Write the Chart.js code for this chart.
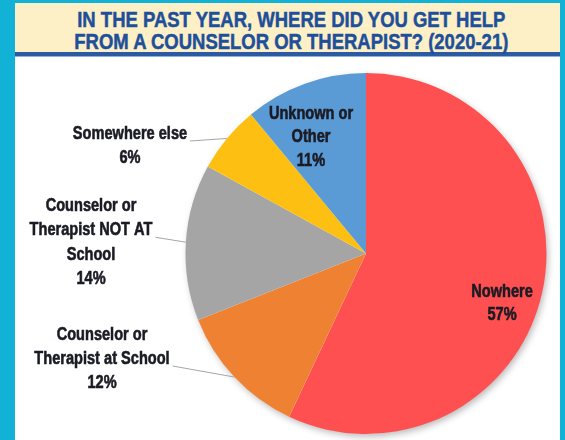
<!DOCTYPE html>
<html>
<head>
<meta charset="utf-8">
<script src="https://cdn.jsdelivr.net/npm/chart.js@4"></script>
<style>
  html, body { margin: 0; padding: 0; }
  body { width: 565px; height: 440px; background: #12b2d6; position: relative; overflow: hidden; }
  .frame { position: absolute; left: 15px; top: 3px; width: 545px; height: 437px; background: #fff; }
  .title {
    height: 53px; background: #fdf0c6; border-bottom: 4px solid #2b5aa3;
    box-shadow: 0 1px 0 #8fb0dc;
    color: #1d4f9a; text-align: center; padding-left: 8px;
    font-family: "Liberation Sans", Arial, sans-serif;
    font-weight: bold; font-size: 22px; line-height: 22px;
    box-sizing: border-box; padding-top: 6px; white-space: nowrap;
    -webkit-text-stroke: 0.5px #1d4f9a;
  }
  .title span { display: inline-block; transform: scaleX(0.84); transform-origin: center; }
  #chart { position: absolute; left: 0; top: 0; }
</style>
</head>
<body>
<div class="frame">
  <div class="title"><span>IN THE PAST YEAR, WHERE DID YOU GET HELP<br>FROM A COUNSELOR OR THERAPIST? (2020-21)</span></div>
</div>
<canvas id="chart" width="565" height="440"></canvas>
<script>
const categories = [
    ["Nowhere"],
    ["Counselor or", "Therapist at School"],
    ["Counselor or", "Therapist NOT AT", "School"],
    ["Somewhere else"],
    ["Unknown or", "Other"]
];
const percents = [57, 12, 14, 6, 11];
const colors = ["#fe5050", "#ef8232", "#a5a5a5", "#fdbf12", "#5b9bd5"];

// where each label sits (centre x, first line y, line height); leader = index of line the leader starts from
const labelLayout = [
    { x: 502, y: 292, lh: 23, leader: null },
    { x: 102, y: 335, lh: 24, leader: 1 },
    { x: 91, y: 206, lh: 24.3, leader: 1 },
    { x: 130, y: 134, lh: 24, leader: 0 },
    { x: 311, y: 114, lh: 23.5, leader: null }
];

// condensed look: Liberation Sans Bold squeezed horizontally
const labelFont = 'bold 18px "Liberation Sans", Arial, sans-serif';
const squeeze = 0.81;

const pieShadow = {
    id: "pieShadow",
    beforeDatasetsDraw(chart) {
        const arc = chart.getDatasetMeta(0).data[0];
        if (!arc) return;
        const ctx = chart.ctx;
        ctx.save();
        ctx.shadowColor = "rgba(0,0,0,0.28)";
        ctx.shadowBlur = 7;
        ctx.shadowOffsetX = 2;
        ctx.shadowOffsetY = 3;
        ctx.fillStyle = "#fff";
        ctx.beginPath();
        ctx.arc(arc.x, arc.y, arc.outerRadius - 0.5, 0, Math.PI * 2);
        ctx.fill();
        ctx.restore();
    }
};

const sliceLabels = {
    id: "sliceLabels",
    afterDatasetsDraw(chart) {
        const ctx = chart.ctx;
        const meta = chart.getDatasetMeta(0);
        ctx.save();
        ctx.font = labelFont;
        ctx.textAlign = "center";
        ctx.textBaseline = "middle";
        meta.data.forEach((arc, i) => {
            const pos = labelLayout[i];
            const lines = categories[i].concat([percents[i] + "%"]);
            if (pos.leader !== null) {
                const mid = (arc.startAngle + arc.endAngle) / 2;
                const ex = arc.x + Math.cos(mid) * arc.outerRadius;
                const ey = arc.y + Math.sin(mid) * arc.outerRadius;
                const w = ctx.measureText(lines[pos.leader]).width * squeeze;
                const sx = pos.x + w / 2 + 3;
                const sy = pos.y + pos.lh * pos.leader + 7;
                ctx.strokeStyle = "#a6a6a6";
                ctx.lineWidth = 1;
                ctx.beginPath();
                ctx.moveTo(sx, sy);
                ctx.lineTo(ex, ey);
                ctx.stroke();
            }
            ctx.fillStyle = "#1b1b24";
            ctx.strokeStyle = "#1b1b24";
            ctx.lineWidth = 0.6;
            ctx.save();
            ctx.scale(squeeze, 1);
            lines.forEach((t, k) => {
                ctx.fillText(t, pos.x / squeeze, pos.y + k * pos.lh);
                ctx.strokeText(t, pos.x / squeeze, pos.y + k * pos.lh);
            });
            ctx.restore();
        });
        ctx.restore();
    }
};

new Chart(document.getElementById("chart"), {
    type: "pie",
    data: {
        labels: categories,
        datasets: [{
            data: percents,
            backgroundColor: colors,
            borderWidth: 0
        }]
    },
    options: {
        responsive: false,
        animation: false,
        layout: { padding: { left: 185.5, right: 18.5, top: 73, bottom: 6 } },
        plugins: {
            legend: { display: false },
            tooltip: { enabled: false }
        }
    },
    plugins: [pieShadow, sliceLabels]
});
</script>
</body>
</html>
